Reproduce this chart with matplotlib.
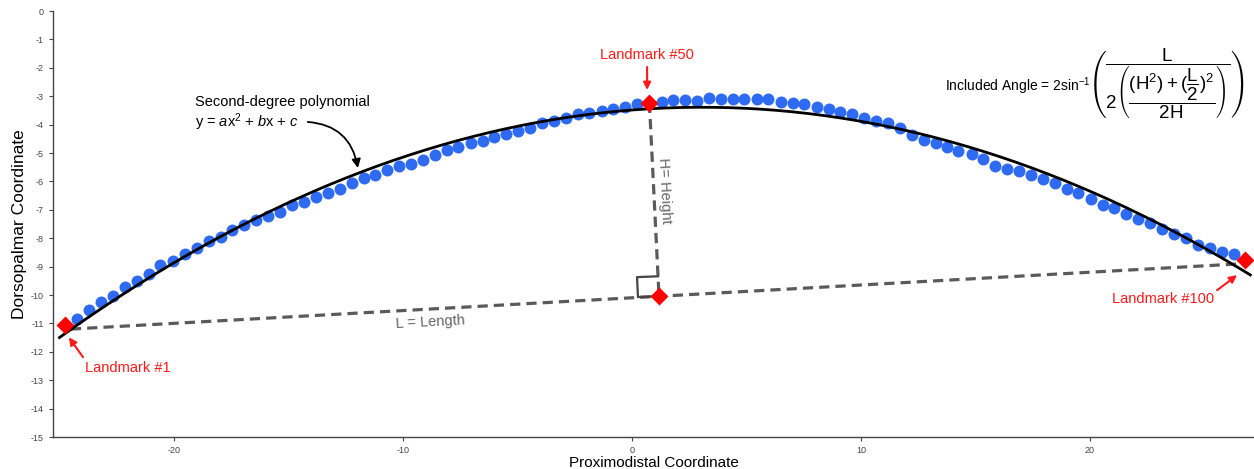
import numpy as np
import matplotlib.pyplot as plt

plt.rcParams.update({
    "font.family": ["Liberation Sans", "DejaVu Sans"],
    "mathtext.fontset": "custom",
    "mathtext.rm": "Liberation Sans",
    "mathtext.it": "Liberation Sans:italic",
    "mathtext.bf": "Liberation Sans:bold",
    "axes.unicode_minus": False,
})

# 100 landmark coordinates (landmarks 1, 50, 100 are red)
lm_x = [-24.76, -24.22, -23.70, -23.19, -22.68, -22.13, -21.63, -21.10, -20.60, -20.06,
        -19.53, -19.01, -18.48, -17.96, -17.45, -16.93, -16.41, -15.88, -15.36, -14.83,
        -14.32, -13.80, -13.29, -12.75, -12.24, -11.70, -11.22, -10.69, -10.16, -9.65,
        -9.14, -8.60, -8.09, -7.59, -7.04, -6.52, -6.01, -5.50, -4.97, -4.44,
        -3.93, -3.41, -2.88, -2.37, -1.86, -1.32, -0.82, -0.29, 0.23, 0.76,
        1.30, 1.80, 2.31, 2.85, 3.36, 3.87, 4.40, 4.90, 5.45, 5.95,
        6.49, 7.02, 7.51, 8.07, 8.60, 9.08, 9.59, 10.13, 10.66, 11.17,
        11.70, 12.24, 12.75, 13.26, 13.77, 14.25, 14.83, 15.34, 15.85, 16.39,
        16.91, 17.42, 17.96, 18.47, 18.98, 19.49, 20.03, 20.55, 21.05, 21.57,
        22.11, 22.62, 23.13, 23.67, 24.19, 24.70, 25.24, 25.75, 26.29, 26.77]
lm_y = [-11.05, -10.83, -10.51, -10.24, -10.02, -9.71, -9.50, -9.27, -8.96, -8.80,
        -8.55, -8.33, -8.09, -7.95, -7.72, -7.55, -7.37, -7.22, -7.07, -6.84,
        -6.72, -6.56, -6.40, -6.25, -6.04, -5.89, -5.78, -5.60, -5.46, -5.39,
        -5.23, -5.06, -4.90, -4.80, -4.64, -4.57, -4.45, -4.33, -4.22, -4.12,
        -3.94, -3.87, -3.75, -3.64, -3.58, -3.51, -3.45, -3.37, -3.29, -3.23,
        -3.21, -3.14, -3.14, -3.16, -3.08, -3.11, -3.11, -3.11, -3.11, -3.11,
        -3.21, -3.25, -3.28, -3.37, -3.46, -3.56, -3.63, -3.75, -3.89, -3.96,
        -4.12, -4.38, -4.55, -4.64, -4.78, -4.92, -5.04, -5.20, -5.45, -5.56,
        -5.65, -5.77, -5.93, -6.07, -6.25, -6.42, -6.61, -6.83, -6.93, -7.13,
        -7.32, -7.48, -7.68, -7.86, -8.00, -8.25, -8.35, -8.48, -8.56, -8.77]
red_idx = [0, 49, 99]

# second-degree polynomial y = ax^2 + bx + c
poly_coef = [-0.0103, 0.063, -3.485]
poly_xrange = [-25.0, 27.0]

# chord (L) end points and the foot of the height (H)
chord_x = [-24.5, 26.6]
chord_y = [-11.2, -8.9]
foot_x, foot_y = 1.18, -10.04

lm_x = np.array(lm_x)
lm_y = np.array(lm_y)

fig = plt.figure(figsize=(12.54, 4.69), dpi=100)
ax = fig.add_axes([0.0423, 0.0682, 0.9577, 0.9083])

gray = "#5a5a5a"

# chord and height lines
ax.plot(chord_x, chord_y, color=gray, lw=2.3, dashes=(3.2, 1.9), zorder=1)
ax.plot([lm_x[49], foot_x], [lm_y[49], foot_y], color=gray, lw=2.3,
        dashes=(3.2, 1.9), zorder=1)

# right-angle marker
sq_w, sq_h = 0.92, 0.70
sq = np.array([[foot_x, foot_y],
               [foot_x - sq_w, foot_y - 0.03],
               [foot_x - sq_w - 0.04, foot_y + sq_h - 0.03],
               [foot_x - 0.04, foot_y + sq_h]])
ax.plot(sq[:, 0], sq[:, 1], color="#444444", lw=1.6, zorder=2)

# fitted polynomial
xx = np.linspace(poly_xrange[0], poly_xrange[1], 300)
ax.plot(xx, np.polyval(poly_coef, xx), color="black", lw=2.0, zorder=3)

# landmarks
blue = [i for i in range(len(lm_x)) if i not in red_idx]
ax.plot(lm_x[blue], lm_y[blue], "o", color="#2f6bf2", ms=8.6, mec="none", zorder=2)
ax.plot(lm_x[red_idx], lm_y[red_idx], "D", color="#ff0000", ms=9.5, mec="none", zorder=4)
ax.plot([foot_x], [foot_y], "D", color="#ff0000", ms=9.5, mec="none", zorder=4)

# landmark labels
red_arrow = dict(arrowstyle="-|>", color="#ff1a1a", lw=1.5, mutation_scale=11,
                 shrinkA=0, shrinkB=0)
ax.annotate("", xy=(-24.59, -11.49), xytext=(-23.97, -12.19), arrowprops=red_arrow)
ax.text(-22.0, -12.58, "Landmark #1", color="#ff1a1a", fontsize=10.5,
        ha="center", va="center")
ax.annotate("", xy=(0.66, -2.78), xytext=(0.66, -1.97), arrowprops=red_arrow)
ax.text(0.66, -1.55, "Landmark #50", color="#ff1a1a", fontsize=10.5,
        ha="center", va="center")
ax.annotate("", xy=(26.42, -9.30), xytext=(25.55, -9.83), arrowprops=red_arrow)
ax.text(23.19, -10.15, "Landmark #100", color="#ff1a1a", fontsize=10.5,
        ha="center", va="center")

# polynomial label
ax.text(-19.08, -3.20, "Second-degree polynomial", fontsize=10.5, ha="left", va="center")
ax.text(-19.08, -3.90, r"y = $\mathit{a}$x$^2$ + $\mathit{b}$x + $\mathit{c}$",
        fontsize=10.5, ha="left", va="center")
ax.annotate("", xy=(-11.97, -5.53), xytext=(-14.28, -3.90),
            arrowprops=dict(arrowstyle="-|>", color="black", lw=1.3, mutation_scale=13,
                            shrinkA=2, shrinkB=0, connectionstyle="arc3,rad=-0.4"))

# L and H labels
ax.text(-8.82, -10.96, "L = Length", color="#666666", fontsize=10.5,
        ha="center", va="center", rotation=3)
ax.text(1.44, -6.31, "H= Height", color="#666666", fontsize=10.5,
        ha="center", va="center", rotation=-87.3)

# formula
ax.text(0.864, 0.824, r"Included Angle = 2sin$^{-1}$", transform=ax.transAxes,
        fontsize=10, ha="right", va="center")
ax.text(0.862, 0.83,
        r"$\left(\dfrac{\mathrm{L}}"
        r"{2\left(\dfrac{(\mathrm{H}^2) + (\dfrac{\mathrm{L}}{2})^2}{2\mathrm{H}}\right)}\right)$",
        transform=ax.transAxes, fontsize=13.5, ha="left", va="center")

# axes
ax.set_xlim(-25.28, 27.16)
ax.set_ylim(-15, 0)
ax.set_xticks([-20, -10, 0, 10, 20])
ax.set_yticks(np.arange(0, -16, -1))
ax.tick_params(labelsize=6.5, labelcolor="#444444", color="#444444", length=3, width=0.8)
for s in ["top", "right"]:
    ax.spines[s].set_visible(False)
for s in ["left", "bottom"]:
    ax.spines[s].set_color("#444444")
    ax.spines[s].set_linewidth(1.0)
ax.set_xlabel("Proximodistal Coordinate", fontsize=11, labelpad=1)
ax.set_ylabel("Dorsopalmar Coordinate", fontsize=12.5, labelpad=3)

fig.savefig("out.png", dpi=100)
